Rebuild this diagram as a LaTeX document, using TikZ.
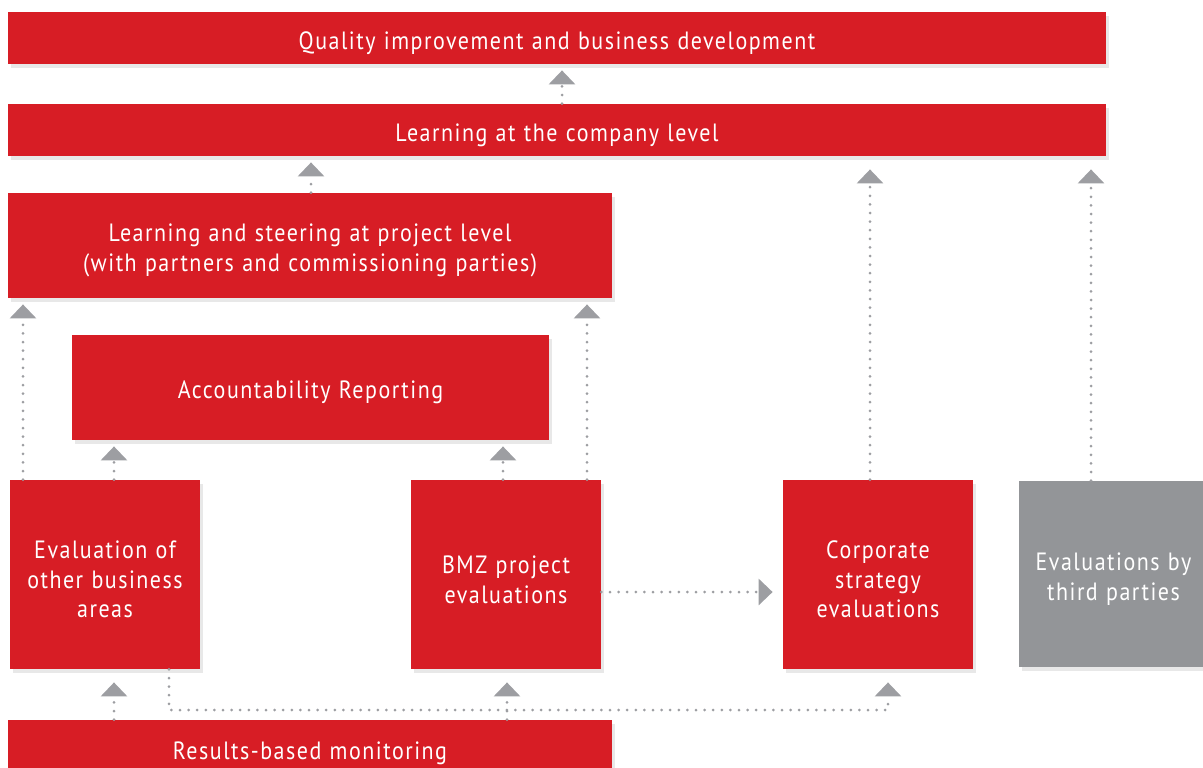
\documentclass[tikz,border=0pt]{standalone}
\usepackage{fontspec}
\setmainfont[FakeStretch=0.88,LetterSpace=6]{PT Sans}
\usetikzlibrary{positioning, arrows.meta, shadows}

\definecolor{giz red}{HTML}{D71D25}
\definecolor{giz gray}{HTML}{939598}
\definecolor{arrow gray}{HTML}{9D9EA2}

\tikzset{
    box/.style={fill=giz red, text=white, inner sep=0pt, align=center,
        execute at begin node={\rule{0pt}{14pt}},
        drop shadow={shadow xshift=1.5pt, shadow yshift=-2pt, opacity=0.18}},
    graybox/.style={box, fill=giz gray},
    flow/.style={draw=arrow gray, line width=1.5pt, line cap=round,
        dash pattern=on 0pt off 4.3pt,
        -{Triangle[width=13pt, length=7pt, fill=arrow gray]}, shorten >=3pt},
    farflow/.style={flow, shorten >=6.5pt},
}

\begin{document}
\begin{tikzpicture}[x=0.5pt, y=-0.5pt, font=\fontsize{12.5}{14.8}\selectfont]
    \useasboundingbox (0,0) rectangle (1203,767);

    % boxes
    \node[box, text width=549pt, minimum height=26pt] (qual) at (557,38)
        {Quality improvement and business development};
    \node[box, text width=549pt, minimum height=26pt] (comp) at (557,130)
        {Learning at the company level};
    \node[box, text width=302pt, minimum height=52.5pt] (proj) at (310,245.5)
        {Learning and steering at project level\\(with partners and commissioning parties)};
    \node[box, text width=238.5pt, minimum height=52.5pt] (acc) at (310.5,387.5)
        {Accountability Reporting};
    \node[box, text width=95pt, minimum height=94.5pt] (other) at (105,574.5)
        {Evaluation of\\other business\\areas};
    \node[box, text width=95pt, minimum height=94.5pt] (bmz) at (506,574.5)
        {BMZ project\\evaluations};
    \node[box, text width=95pt, minimum height=94.5pt] (corp) at (878,574.5)
        {Corporate\\strategy\\evaluations};
    \node[graybox, text width=95pt, minimum height=93pt] (third) at (1113.5,574)
        {Evaluations by\\third parties};
    \node[box, text width=302pt, minimum height=28pt] (res) at (310,748)
        {Results-based monitoring};

    % columns of the arrows
    \coordinate (c1) at (23,0);
    \coordinate (c2) at (114,0);
    \coordinate (c3) at (169,0);
    \coordinate (c4) at (311,0);
    \coordinate (c5) at (503,0);
    \coordinate (c6) at (507,0);
    \coordinate (c7) at (562,0);
    \coordinate (c8) at (587,0);
    \coordinate (c9) at (870,0);
    \coordinate (c10) at (888,0);
    \coordinate (c11) at (1091,0);
    \coordinate (r1) at (0,592);
    \coordinate (r2) at (0,710);

    % arrows
    \draw[flow] (comp.north -| c7) -- (qual.south -| c7);
    \draw[flow] (proj.north -| c4) -- (comp.south -| c4);
    \draw[farflow] (corp.north -| c9) -- (comp.south -| c9);
    \draw[farflow] (third.north -| c11) -- (comp.south -| c11);
    \draw[flow] (other.north -| c1) -- (proj.south -| c1);
    \draw[flow] (bmz.north -| c8) -- (proj.south -| c8);
    \draw[flow] (other.north -| c2) -- (acc.south -| c2);
    \draw[flow] (bmz.north -| c5) -- (acc.south -| c5);
    \draw[flow, shorten >=5pt] (bmz.east |- r1) -- (corp.west |- r1);
    \draw[farflow] (res.north -| c2) -- (other.south -| c2);
    \draw[farflow] (res.north -| c6) -- (bmz.south -| c6);
    \draw[farflow] (other.south -| c3) -- (c3 |- r2) -- (c10 |- r2) -- (corp.south -| c10);
\end{tikzpicture}
\end{document}
